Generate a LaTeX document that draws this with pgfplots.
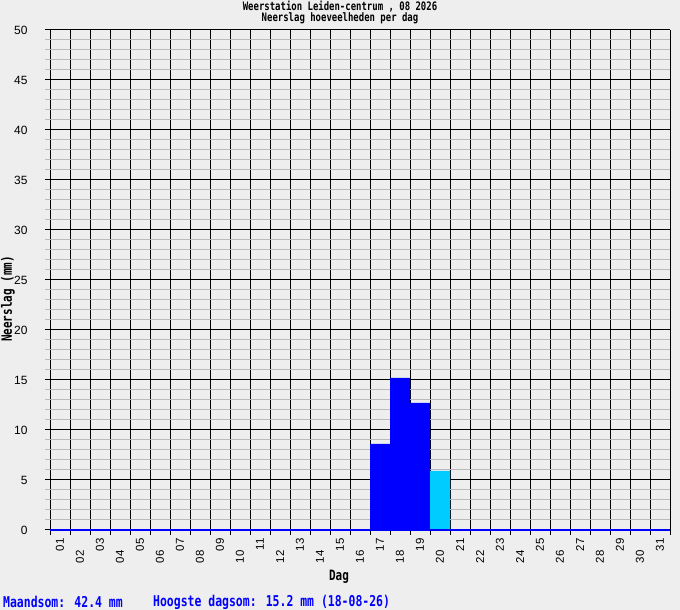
\documentclass[border=0pt]{standalone}
\usepackage{pgfplots}
\pgfplotsset{compat=1.18}
\usepackage{fontspec}
\setmainfont{Liberation Sans}
\newfontfamily\mono{DejaVu Sans Mono}

\definecolor{bg}{HTML}{EEEEEE}
\definecolor{minorgrid}{HTML}{BBBBBB}
\definecolor{barblue}{HTML}{0000FF}
\definecolor{barcyan}{HTML}{00CCFF}

\newcommand{\tall}[1]{\scalebox{1}[1.3]{#1}}

\begin{document}
\begin{tikzpicture}[x=1bp,y=1bp]
\fill[bg] (0,0) rectangle (680,610);
\useasboundingbox (0,0) rectangle (680,610);

\begin{axis}[
  at={(50bp,80bp)}, anchor=south west,
  scale only axis, width=620bp, height=500bp,
  xmin=0, xmax=31, ymin=0, ymax=50,
  clip=false,
  axis line style={draw=none},
  tick align=outside,
  xtick pos=bottom, ytick pos=left,
  major tick length=5bp, minor tick length=5bp,
  /pgf/number format/assume math mode=true,
  xtick={0,1,...,31},
  xticklabels={\mbox{01},\mbox{02}\kern12bp,\mbox{03},\mbox{04}\kern12bp,\mbox{05},\mbox{06}\kern12bp,
    \mbox{07},\mbox{08}\kern12bp,\mbox{09},\mbox{10}\kern12bp,\mbox{11},\mbox{12}\kern12bp,
    \mbox{13},\mbox{14}\kern12bp,\mbox{15},\mbox{16}\kern12bp,\mbox{17},\mbox{18}\kern12bp,
    \mbox{19},\mbox{20}\kern12bp,\mbox{21},\mbox{22}\kern12bp,\mbox{23},\mbox{24}\kern12bp,
    \mbox{25},\mbox{26}\kern12bp,\mbox{27},\mbox{28}\kern12bp,\mbox{29},\mbox{30}\kern12bp,\mbox{31},},
  xticklabel style={xshift=10bp, rotate=90, anchor=east, font=\fontsize{11.5}{13}\selectfont},
  ytick={0,5,...,50},
  minor ytick={0,1,...,50},
  yticklabel style={xshift=-14bp, font=\fontsize{12}{14}\selectfont},
  xmajorgrids, ymajorgrids, yminorgrids,
  major grid style={black, line width=1bp},
  minor grid style={minorgrid, line width=1bp},
  major tick style={black, line width=1bp},
  minor tick style={minorgrid, line width=1bp},
]
\addplot[fill=barblue, draw=none] coordinates {
  (16,0) (16,8.6) (17,8.6) (17,15.2) (18,15.2) (18,12.7) (19,12.7) (19,0)
} \closedcycle;
\addplot[fill=barcyan, draw=none] coordinates {
  (19,0) (19,5.9) (20,5.9) (20,0)
} \closedcycle;
\addplot[barblue, line width=1.2bp] coordinates {(0,0) (31,0)};
\end{axis}

\node[font=\mono\bfseries\fontsize{9}{7.3}\selectfont, align=center, inner sep=0pt,
  yscale=1.3, transform shape] at (340,597.5)
  {Weerstation Leiden-centrum , 08 2026\\Neerslag hoeveelheden per dag};
\node[font=\mono\bfseries\fontsize{11}{12}\selectfont, rotate=90, inner sep=0pt] at (8,311) {\tall{Neerslag (mm)}};
\node[font=\mono\bfseries\fontsize{11}{12}\selectfont, inner sep=0pt] at (339,33) {\tall{Dag}};
\node[font=\mono\bfseries\fontsize{11.5}{13}\selectfont, text=barblue, anchor=west, inner sep=0pt] at (3,8) {\tall{Maandsom: 42.4 mm}};
\node[font=\mono\bfseries\fontsize{11.5}{13}\selectfont, text=barblue, anchor=west, inner sep=0pt] at (153,8) {\tall{Hoogste dagsom: 15.2 mm (18-08-26)}};
\end{tikzpicture}
\end{document}
